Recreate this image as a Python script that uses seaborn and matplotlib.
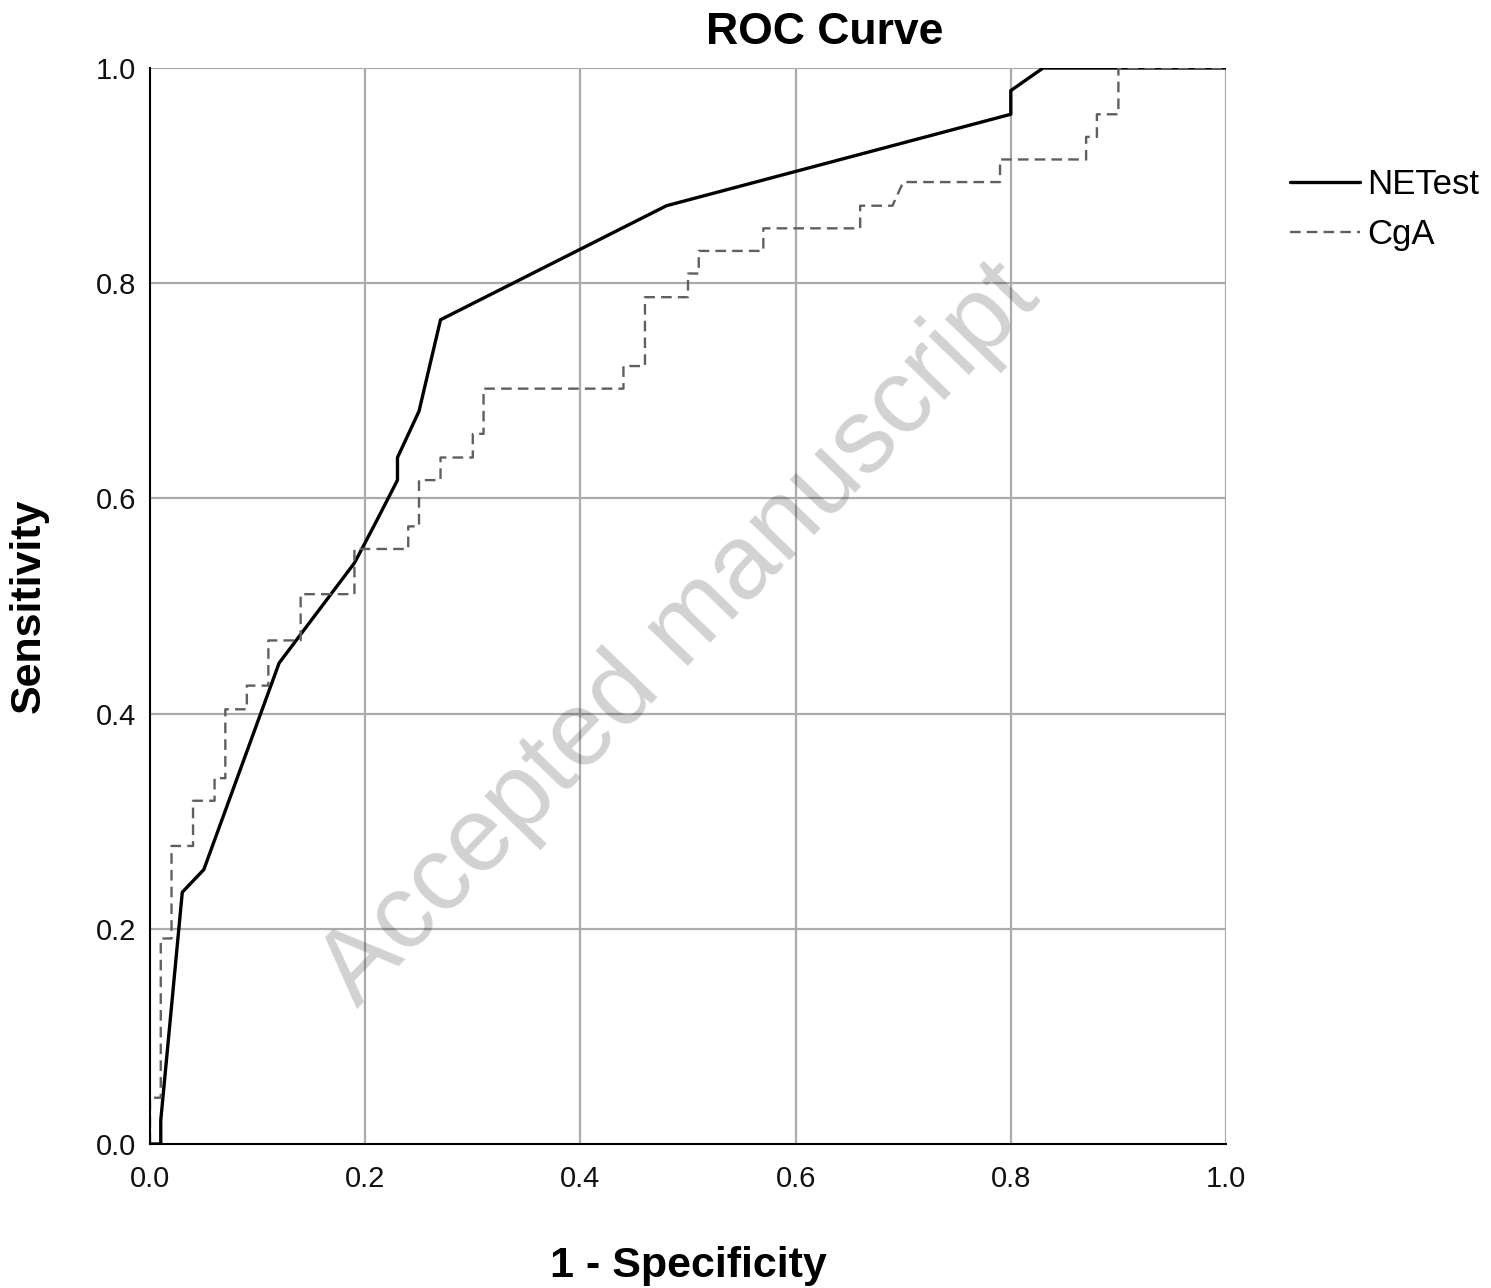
import matplotlib
matplotlib.use("Agg")
import matplotlib.pyplot as plt
import seaborn as sns
import pandas as pd

# ROC coordinates (1 - specificity, sensitivity)
netest_fpr = [0.0, 0.01, 0.01, 0.03, 0.05, 0.12, 0.19, 0.21, 0.23, 0.23, 0.25, 0.27,
              0.48, 0.80, 0.80, 0.83, 1.0]
netest_tpr = [0.0, 0.0, 0.022, 0.234, 0.255, 0.447, 0.54, 0.578, 0.617, 0.638, 0.681, 0.766,
              0.872, 0.957, 0.979, 1.0, 1.0]

cga_fpr = [0.0, 0.0, 0.01, 0.01, 0.02, 0.02, 0.04, 0.04, 0.06, 0.06, 0.07, 0.07,
           0.09, 0.09, 0.11, 0.11, 0.14, 0.14, 0.19, 0.19, 0.24, 0.24, 0.25, 0.25,
           0.27, 0.27, 0.30, 0.30, 0.31, 0.31, 0.44, 0.44, 0.46, 0.46, 0.50, 0.50,
           0.51, 0.51, 0.57, 0.57, 0.66, 0.66, 0.69, 0.70, 0.79, 0.79, 0.87, 0.87,
           0.88, 0.88, 0.90, 0.90, 1.0]
cga_tpr = [0.0, 0.043, 0.043, 0.191, 0.191, 0.277, 0.277, 0.319, 0.319, 0.340, 0.340, 0.404,
           0.404, 0.426, 0.426, 0.468, 0.468, 0.511, 0.511, 0.553, 0.553, 0.574, 0.574, 0.617,
           0.617, 0.638, 0.638, 0.660, 0.660, 0.702, 0.702, 0.723, 0.723, 0.787, 0.787, 0.809,
           0.809, 0.830, 0.830, 0.851, 0.851, 0.872, 0.872, 0.894, 0.894, 0.915, 0.915, 0.936,
           0.936, 0.957, 0.957, 1.0, 1.0]

series_names = ["NETest", "CgA"]
ticks = [0.0, 0.2, 0.4, 0.6, 0.8, 1.0]

sns.set_theme(style="white")
plt.rcParams["font.family"] = ["Liberation Sans", "DejaVu Sans"]
plt.rcParams["text.color"] = "black"
plt.rcParams["axes.labelcolor"] = "black"

fig = plt.figure(figsize=(14.91, 12.88), dpi=100)
ax = fig.add_axes([150 / 1491, 1 - 1144 / 1288, 1076 / 1491, 1076 / 1288])

df_net = pd.DataFrame({"fpr": netest_fpr, "tpr": netest_tpr})
df_cga = pd.DataFrame({"fpr": cga_fpr, "tpr": cga_tpr})

# grid lines
for t in ticks[1:]:
    ax.axvline(t, color="#ababab", lw=1.6, zorder=1)
    ax.axhline(t, color="#ababab", lw=1.6, zorder=1)

sns.lineplot(data=df_net, x="fpr", y="tpr", sort=False, estimator=None, ax=ax,
             color="black", lw=2.4, label=series_names[0], zorder=3)
sns.lineplot(data=df_cga, x="fpr", y="tpr", sort=False, estimator=None, ax=ax,
             color="#5f5f5f", lw=1.7, label=series_names[1], zorder=3,
             dashes=False, linestyle=(0, (4.5, 2.6)))

ax.set_xlim(0, 1)
ax.set_ylim(0, 1)
ax.set_xticks(ticks)
ax.set_yticks(ticks)
ax.set_xticklabels([f"{t:.1f}" for t in ticks])
ax.set_yticklabels([f"{t:.1f}" for t in ticks])
ax.tick_params(axis="both", length=0, labelsize=21, colors="#111111")
ax.tick_params(axis="x", pad=15)
ax.tick_params(axis="y", pad=10)

for side in ["top", "right"]:
    ax.spines[side].set_visible(False)
for side in ["left", "bottom"]:
    ax.spines[side].set_color("black")
    ax.spines[side].set_linewidth(1.5)
    ax.spines[side].set_zorder(4)

ax.set_xlabel("1 - Specificity", fontsize=31, fontweight="bold", labelpad=38)
ax.set_ylabel("Sensitivity", fontsize=31, fontweight="bold", labelpad=34)

fig.text(825 / 1491, 1 - 33 / 1288, "ROC Curve", fontsize=32, fontweight="bold",
         ha="center", va="center")

leg = ax.legend(loc="upper left", bbox_to_anchor=(1259 / 1491, 1 - 137 / 1288),
                bbox_transform=fig.transFigure, frameon=False, fontsize=25,
                handlelength=2.0, handletextpad=0.22, labelspacing=0.48)
for txt in leg.get_texts():
    txt.set_color("black")

# watermark
fig.text(680 / 1491, 1 - 635 / 1288, "Accepted manuscript", fontsize=76,
         rotation=46, color="black", alpha=0.18, ha="center", va="center",
         rotation_mode="anchor", zorder=10)

fig.savefig("out.png", dpi=100, facecolor="white")
